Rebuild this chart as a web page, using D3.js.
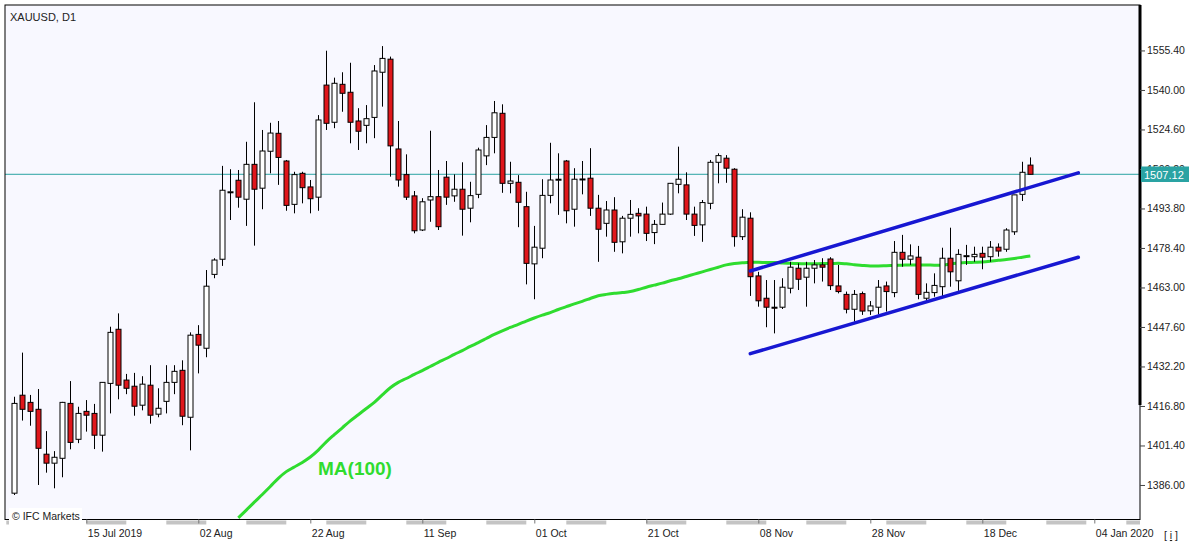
<!DOCTYPE html>
<html><head><meta charset="utf-8">
<script src="https://cdn.jsdelivr.net/npm/d3@7"></script>
<style>
html,body{margin:0;padding:0;background:#fff;}
svg{display:block;font-family:"Liberation Sans",Arial,sans-serif;}
</style></head>
<body><svg id="chart" width="1194" height="545"></svg>
<script>
// ---- data ----
const title = "XAUUSD, D1";
const openP  = [1382.8,1421.0,1418.2,1415.5,1398.0,1394.5,1396.4,1417.8,1403.8,1414.7,1413.9,1405.4,1425.6,1446.7,1426.9,1424.5,1417.1,1424.9,1413.6,1418.6,1426.0,1430.7,1412.4,1444.7,1439.3,1468.1,1474.0,1500.3,1504.8,1497.4,1511.0,1501.7,1516.1,1523.1,1512.3,1495.4,1507.5,1502.2,1498.2,1541.9,1527.4,1542.2,1539.1,1527.9,1526.2,1529.3,1546.9,1552.0,1517.0,1507.0,1498.7,1485.4,1497.1,1498.4,1506.0,1498.7,1501.3,1493.9,1499.3,1514.3,1521.5,1530.9,1503.6,1504.0,1494.5,1472.2,1478.3,1498.9,1505.0,1512.3,1493.5,1505.3,1505.6,1493.9,1488.0,1493.2,1480.8,1490.0,1491.9,1491.6,1484.4,1487.6,1491.6,1503.2,1503.0,1491.6,1487.4,1495.8,1511.8,1513.4,1509.1,1482.8,1490.0,1467.5,1458.8,1455.3,1455.3,1462.7,1470.5,1467.0,1470.5,1471.8,1474.1,1463.6,1460.3,1454.5,1460.6,1453.9,1455.3,1463.6,1461.0,1476.7,1474.0,1474.8,1458.8,1461.0,1463.3,1474.4,1465.6,1475.4,1475.0,1476.3,1475.0,1478.7,1477.9,1484.7,1499.3,1510.7];
const highP  = [1420.4,1437.6,1421.1,1423.4,1407.0,1399.2,1418.4,1426.5,1416.5,1419.1,1417.6,1426.1,1447.7,1452.9,1429.3,1429.7,1428.4,1432.7,1423.7,1432.7,1432.7,1434.6,1445.5,1448.3,1469.8,1474.4,1510.4,1509.1,1508.8,1519.8,1535.2,1524.4,1527.2,1527.9,1512.7,1508.1,1508.1,1504.9,1530.2,1555.3,1544.8,1546.9,1550.6,1532.9,1534.1,1549.7,1557.1,1553.0,1527.9,1514.9,1500.6,1497.8,1524.1,1508.8,1512.3,1507.1,1511.8,1504.2,1517.5,1526.3,1535.7,1534.4,1512.0,1506.8,1500.3,1487.0,1505.2,1519.4,1515.3,1512.7,1509.5,1512.3,1517.3,1499.1,1496.7,1498.2,1490.9,1497.1,1493.9,1494.5,1489.3,1496.1,1503.6,1517.9,1507.9,1494.5,1497.1,1512.7,1515.3,1514.6,1509.5,1493.5,1492.3,1469.1,1465.9,1465.9,1466.6,1473.0,1472.4,1473.0,1473.7,1474.4,1474.8,1471.8,1461.4,1462.0,1461.4,1457.7,1465.9,1465.3,1481.1,1483.5,1479.8,1479.2,1464.6,1468.5,1478.5,1486.3,1477.9,1479.6,1478.9,1478.9,1481.1,1480.2,1486.1,1499.1,1512.0,1513.7];
const lowP   = [1382.1,1411.1,1409.1,1386.0,1390.8,1384.7,1389.0,1399.9,1402.3,1406.8,1400.0,1399.0,1413.9,1419.4,1421.4,1413.0,1415.1,1409.9,1412.4,1413.9,1421.4,1409.3,1399.5,1429.5,1435.8,1466.6,1471.4,1489.3,1494.1,1487.0,1479.3,1493.5,1507.5,1503.0,1492.9,1491.9,1495.8,1491.9,1492.9,1524.4,1525.1,1531.5,1519.2,1516.6,1519.2,1521.2,1533.5,1506.2,1502.3,1497.1,1484.1,1485.0,1488.6,1485.4,1495.2,1496.4,1483.2,1488.4,1497.8,1510.7,1515.3,1499.9,1499.7,1486.5,1464.2,1458.4,1474.4,1495.8,1491.3,1488.0,1486.7,1499.3,1490.9,1473.0,1482.8,1476.9,1476.3,1482.8,1484.1,1481.1,1479.9,1487.6,1491.3,1499.7,1489.3,1483.1,1480.8,1493.5,1503.6,1503.8,1478.9,1481.5,1459.7,1455.5,1447.5,1445.1,1454.6,1460.7,1462.0,1455.5,1464.6,1465.3,1462.0,1460.7,1452.9,1449.7,1452.3,1452.3,1452.5,1453.6,1459.2,1471.1,1471.8,1458.4,1457.8,1459.4,1459.4,1463.3,1461.7,1471.8,1473.0,1470.1,1473.0,1475.0,1476.9,1483.5,1496.7,1507.1];
const closeP = [1417.8,1415.5,1414.7,1400.3,1394.5,1396.8,1418.2,1402.6,1413.9,1413.2,1405.4,1426.0,1445.5,1424.9,1423.7,1416.7,1425.3,1413.2,1415.9,1426.0,1430.3,1412.8,1444.4,1440.5,1463.5,1473.7,1500.9,1500.3,1498.2,1511.0,1501.3,1516.2,1523.2,1513.7,1495.0,1507.0,1501.9,1497.6,1528.3,1527.0,1542.6,1538.7,1527.4,1523.9,1528.8,1547.4,1552.3,1518.2,1504.9,1498.2,1485.1,1496.4,1498.4,1486.7,1498.2,1501.3,1493.5,1498.8,1516.6,1521.5,1531.1,1503.6,1504.5,1496.2,1472.4,1478.7,1498.9,1504.9,1505.2,1492.9,1505.2,1505.3,1493.9,1485.7,1493.2,1480.6,1490.0,1491.5,1490.9,1484.1,1487.6,1491.6,1503.6,1505.2,1491.6,1487.2,1496.1,1511.8,1514.4,1509.5,1482.8,1490.4,1467.2,1457.8,1455.3,1455.1,1463.1,1470.9,1466.2,1470.5,1471.8,1470.9,1463.7,1461.4,1454.5,1460.3,1453.8,1455.8,1463.1,1461.4,1476.7,1474.0,1475.3,1460.3,1461.1,1463.8,1474.4,1469.1,1475.9,1475.4,1475.9,1474.8,1478.7,1477.2,1485.4,1499.1,1507.9,1507.12];
// MA(100) values, starting at bar index 28
const maStart = 28;
const ma100 = [1373.2,1376.2,1379.3,1382.3,1385.4,1388.6,1391.2,1393.0,1394.8,1396.9,1399.6,1402.8,1405.6,1408.3,1411.0,1413.4,1415.8,1418.2,1421.1,1423.9,1426.0,1427.5,1429.1,1430.6,1432.2,1433.8,1435.3,1436.9,1438.4,1440.0,1441.5,1443.1,1444.7,1446.1,1447.4,1448.6,1449.9,1451.1,1452.2,1453.2,1454.4,1455.5,1456.6,1457.6,1458.7,1459.8,1460.3,1460.7,1461.0,1461.4,1462.2,1463.1,1463.9,1464.7,1465.6,1466.4,1467.3,1468.2,1469.1,1470.0,1470.9,1471.8,1472.3,1472.6,1472.8,1472.8,1472.7,1472.7,1472.5,1472.4,1472.3,1472.2,1472.2,1472.3,1472.3,1472.4,1472.2,1471.9,1471.6,1471.4,1471.4,1471.5,1471.6,1471.7,1471.8,1471.8,1471.8,1471.7,1471.7,1472.2,1472.5,1472.7,1472.8,1472.9,1473.2,1473.6,1473.9,1474.3,1474.8,1475.3];
// channel trend lines: [barIndex, price]
const upperLine = [[92, 1469.4], [133, 1507.7]];
const lowerLine = [[92, 1437.2], [133, 1474.8]];
const lastPrice = 1507.12;
const yTickValues = [1386.00,1401.40,1416.80,1432.20,1447.60,1463.00,1478.40,1493.80,1509.20,1524.60,1540.00,1555.40];
const xTickIndex  = [9, 23, 37, 51, 65, 79, 93, 107, 121, 135];
const xTickLabels = ["15 Jul 2019","02 Aug","22 Aug","11 Sep","01 Oct","21 Oct","08 Nov","28 Nov","18 Dec","04 Jan 2020"];
const maLabel = "MA(100)";
const copyright = "\u00A9 IFC Markets";

// ---- layout ----
const svg = d3.select("#chart");
const P = {x0:5, x1:1140, y0:5, y1:519.5};
const x = d3.scaleLinear().domain([-1.1625, 140.7125]).range([P.x0, P.x1]);
const y = d3.scaleLinear().domain([1372.54, 1573.12]).range([P.y1, P.y0]);
const txt = "#222";

svg.append("rect").attr("x",0).attr("y",0).attr("width",1194).attr("height",545).attr("fill","#fff");
svg.append("rect").attr("x",P.x0).attr("y",P.y0).attr("width",P.x1-P.x0).attr("height",P.y1-P.y0).attr("fill","#f8f8ff");

svg.append("defs").append("clipPath").attr("id","clip")
  .append("rect").attr("x",P.x0).attr("y",P.y0).attr("width",P.x1-P.x0).attr("height",P.y1-P.y0);
const g = svg.append("g").attr("clip-path","url(#clip)");

// price line
g.append("line").attr("x1",P.x0).attr("x2",P.x1).attr("y1",y(lastPrice)).attr("y2",y(lastPrice))
  .attr("stroke","#2aa3a3").attr("stroke-width",1);

// MA line
const maData = ma100.map((v,k)=>[maStart+k, v]);
g.append("path").datum(maData)
  .attr("d", d3.line().x(d=>x(d[0])).y(d=>y(d[1])).curve(d3.curveMonotoneX))
  .attr("fill","none").attr("stroke","#2fdc2f").attr("stroke-width",3);

// candles
const bars = d3.range(openP.length).map(i=>({i, o:openP[i], h:highP[i], l:lowP[i], c:closeP[i]}));
const cg = g.append("g");
cg.selectAll("line.wick").data(bars).join("line").attr("class","wick")
  .attr("x1",d=>Math.round(x(d.i))+0.5).attr("x2",d=>Math.round(x(d.i))+0.5)
  .attr("y1",d=>y(d.h)).attr("y2",d=>y(d.l)).attr("stroke","#000").attr("stroke-width",1);
cg.selectAll("rect.body").data(bars).join("rect").attr("class","body")
  .attr("x",d=>Math.round(x(d.i))-2)
  .attr("width",5)
  .attr("y",d=>y(Math.max(d.o,d.c)))
  .attr("height",d=>Math.max(1, Math.abs(y(d.o)-y(d.c))))
  .attr("fill",d=> d.c>=d.o ? "#ffffff" : "#e0161b")
  .attr("stroke","#000").attr("stroke-width",1);

// channel lines
[upperLine, lowerLine].forEach(L=>{
  g.append("line").attr("x1",x(L[0][0])).attr("y1",y(L[0][1])).attr("x2",x(L[1][0])).attr("y2",y(L[1][1]))
    .attr("stroke","#1717d2").attr("stroke-width",3.5).attr("stroke-linecap","round");
});

// MA label
svg.append("text").attr("x",318).attr("y",475).attr("fill","#2fdc2f")
  .attr("font-weight","bold").attr("font-size",19).text(maLabel);

// frame
svg.append("rect").attr("x",P.x0).attr("y",P.y0).attr("width",P.x1-P.x0).attr("height",P.y1-P.y0)
  .attr("fill","none").attr("stroke","#000").attr("stroke-width",1);
svg.append("line").attr("x1",P.x1).attr("x2",P.x1).attr("y1",P.y0).attr("y2",405)
  .attr("stroke","#000").attr("stroke-width",3);

// weekly bands below the plot
const bandStarts = d3.range(-1, 141, 10);
svg.append("g").selectAll("rect").data(bandStarts).join("rect")
  .attr("x",d=>Math.max(P.x0, x(d))).attr("y",520.5)
  .attr("width",d=>Math.max(0, Math.min(P.x1, x(d+5))-Math.max(P.x0, x(d))))
  .attr("height",4).attr("fill","#c4c4c4");

// y axis
const yAxis = svg.append("g").attr("transform",`translate(${P.x1},0)`)
  .call(d3.axisRight(y).tickValues(yTickValues).tickFormat(d3.format(".2f")).tickSize(5).tickPadding(2));
yAxis.select(".domain").remove();
yAxis.selectAll("line").attr("stroke","#444");
yAxis.selectAll("text").attr("fill",txt).attr("font-size","10.5px").attr("font-family","'Liberation Sans',Arial,sans-serif");

// x axis
const xAxis = svg.append("g").attr("transform",`translate(0,${P.y1})`)
  .call(d3.axisBottom(x).tickValues(xTickIndex).tickFormat((d,k)=>xTickLabels[k]).tickSize(4));
xAxis.select(".domain").remove();
xAxis.selectAll("line").attr("stroke","#777");
xAxis.selectAll("text").attr("fill",txt).attr("font-size","10.5px")
  .attr("font-family","'Liberation Sans',Arial,sans-serif")
  .attr("text-anchor","start").attr("x",1).attr("y",10);

// last price label
svg.append("rect").attr("x",1141).attr("y",166.5).attr("width",48).attr("height",15.5).attr("fill","#2aa3a3");
svg.append("text").attr("x",1144).attr("y",178.5).attr("fill","#fff").attr("font-size","11px").text(lastPrice.toFixed(2));

// title
svg.append("text").attr("x",10).attr("y",21).attr("fill",txt).attr("font-size","11px").text(title);

// copyright box
svg.append("rect").attr("x",9).attr("y",508).attr("width",73).attr("height",18).attr("fill","#fff");
svg.append("text").attr("x",12).attr("y",520).attr("fill",txt).attr("font-size","10.5px").text(copyright);

// info mark
const info = svg.append("text").attr("x",1164).attr("y",539).attr("fill",txt).attr("font-size","10.5px");
info.append("tspan").text("[ ");
info.append("tspan").attr("text-decoration","underline").text("i");
info.append("tspan").text(" ]");
</script>
</body></html>
